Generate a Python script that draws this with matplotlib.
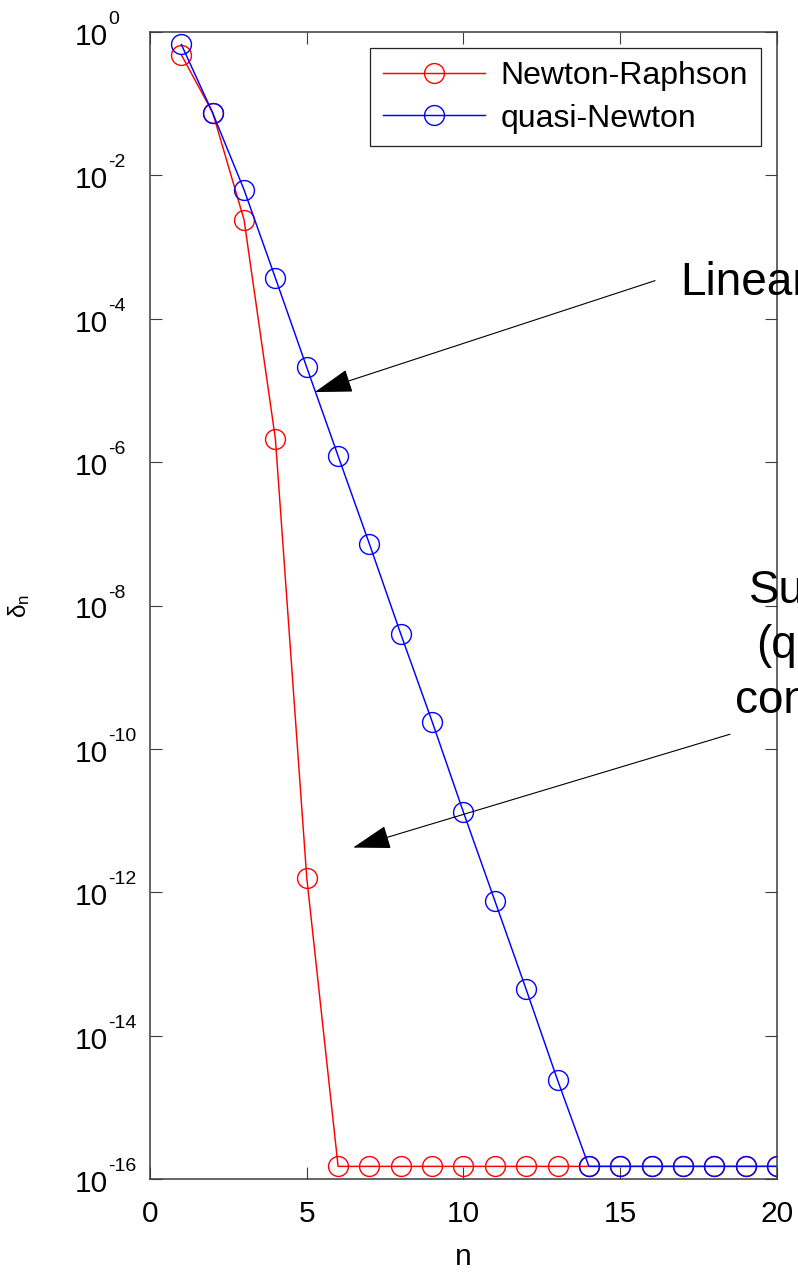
import matplotlib
matplotlib.use("Agg")
import matplotlib.pyplot as plt
import matplotlib.transforms as mtransforms
import numpy as np

plt.rcParams['font.family'] = ['Liberation Sans', 'DejaVu Sans']
plt.rcParams['mathtext.fontset'] = 'custom'
plt.rcParams['mathtext.rm'] = 'Liberation Sans'
plt.rcParams['mathtext.it'] = 'Liberation Sans:italic'
plt.rcParams['mathtext.bf'] = 'Liberation Sans:bold'

# ---- data ----
n_newton = [1, 2, 3, 4, 5, 6, 7, 8, 9, 10, 11, 12, 13, 14, 15, 16, 17, 18, 19, 20]
delta_newton = [0.48, 0.075, 2.4e-3, 2.1e-6, 1.6e-12,
                1.5e-16, 1.5e-16, 1.5e-16, 1.5e-16, 1.5e-16,
                1.5e-16, 1.5e-16, 1.5e-16, 1.5e-16, 1.5e-16,
                1.5e-16, 1.5e-16, 1.5e-16, 1.5e-16, 1.5e-16]
n_quasi = [1, 2, 3, 4, 5, 6, 7, 8, 9, 10, 11, 12, 13, 14, 15, 16, 17, 18, 19, 20]
delta_quasi = [0.67, 0.074, 6.3e-3, 3.7e-4, 2.1e-5, 1.22e-6, 7.2e-8, 4.0e-9,
               2.4e-10, 1.3e-11, 7.6e-13, 4.4e-14, 2.4e-15,
               1.5e-16, 1.5e-16, 1.5e-16, 1.5e-16, 1.5e-16, 1.5e-16, 1.5e-16]
series_labels = ['Newton-Raphson', 'quasi-Newton']
x_ticks = [0, 5, 10, 15, 20]
y_tick_exponents = [0, -2, -4, -6, -8, -10, -12, -14, -16]
ann_linear = 'Linear'
ann_super = 'Superlinear\n(quadratic)\nconvergence'

W, H = 798, 1272
fig = plt.figure(figsize=(W / 100, H / 100), dpi=100)
L, R, T, B = 150, 777, 32, 1179
ax = fig.add_axes([L / W, 1 - B / H, (R - L) / W, (B - T) / H])

ms = 14.3
ax.plot(n_newton, delta_newton, '-o', color=(1, 0, 0), lw=1.05, ms=ms,
        mfc='none', mew=1.0, label=series_labels[0])
ax.plot(n_quasi, delta_quasi, '-o', color=(0, 0, 1), lw=1.05, ms=ms,
        mfc='none', mew=1.0, label=series_labels[1])

ax.set_yscale('log')
ax.set_xlim(0, 20)
ax.set_ylim(1e-16, 1)
ax.set_xticks(x_ticks)
y_ticks = [10.0 ** e for e in y_tick_exponents]
ax.set_yticks(y_ticks)
ax.yaxis.set_minor_locator(matplotlib.ticker.NullLocator())
ax.tick_params(which='both', direction='in', top=True, right=True,
               length=8.5, width=0.8, color='#3c3c3c', labelsize=21.5)
ax.tick_params(axis='x', pad=15)
ax.tick_params(axis='y', labelleft=False)
for s in ax.spines.values():
    s.set_color('#3c3c3c')
    s.set_linewidth(1.1)

# y tick labels in MATLAB style: "10" with small raised exponent
tr = ax.get_yaxis_transform()
tr_base = mtransforms.offset_copy(tr, fig=fig, x=-42, y=-13, units='dots')
tr_exp = mtransforms.offset_copy(tr, fig=fig, x=-42, y=8, units='dots')
for e, yv in zip(y_tick_exponents, y_ticks):
    ax.text(0, yv, '10', transform=tr_base, ha='right', va='baseline',
            fontsize=21.5, clip_on=False)
    ax.text(0, yv, '%d' % e, transform=tr_exp, ha='left', va='baseline',
            fontsize=14, clip_on=False)

ax.set_xlabel('n', fontsize=21.5, labelpad=11)
ax.set_ylabel(r'$\mathregular{δ_n}$', fontsize=17.5)
ax.yaxis.set_label_coords(-0.188, 0.5)

leg = ax.legend(loc='upper right', bbox_to_anchor=(1, 1), fontsize=23,
                borderaxespad=0.5, handlelength=3.2, handletextpad=0.48,
                labelspacing=0.4, borderpad=0.4, fancybox=False,
                framealpha=1, edgecolor='#222222')
leg.get_frame().set_linewidth(0.9)

arrow_kw = dict(arrowstyle='-|>,head_length=0.8,head_width=0.25',
                mutation_scale=30, color='black', lw=0.8, shrinkA=0, shrinkB=0)
ax.annotate('', xy=(5.26, 9.5e-6), xytext=(16.11, 3.4e-4),
            arrowprops=arrow_kw, annotation_clip=False)
ax.annotate('', xy=(6.48, 4.2e-12), xytext=(18.50, 1.6e-10),
            arrowprops=arrow_kw, annotation_clip=False)
ax.text(16.9, 10 ** -3.67, ann_linear, fontsize=33, ha='left', va='baseline',
        clip_on=False)
ax.text(22.84, 10 ** -9.50, ann_super, fontsize=33, ha='center', va='baseline',
        multialignment='center', linespacing=1.33, clip_on=False)

fig.savefig('out.png', dpi=100)
